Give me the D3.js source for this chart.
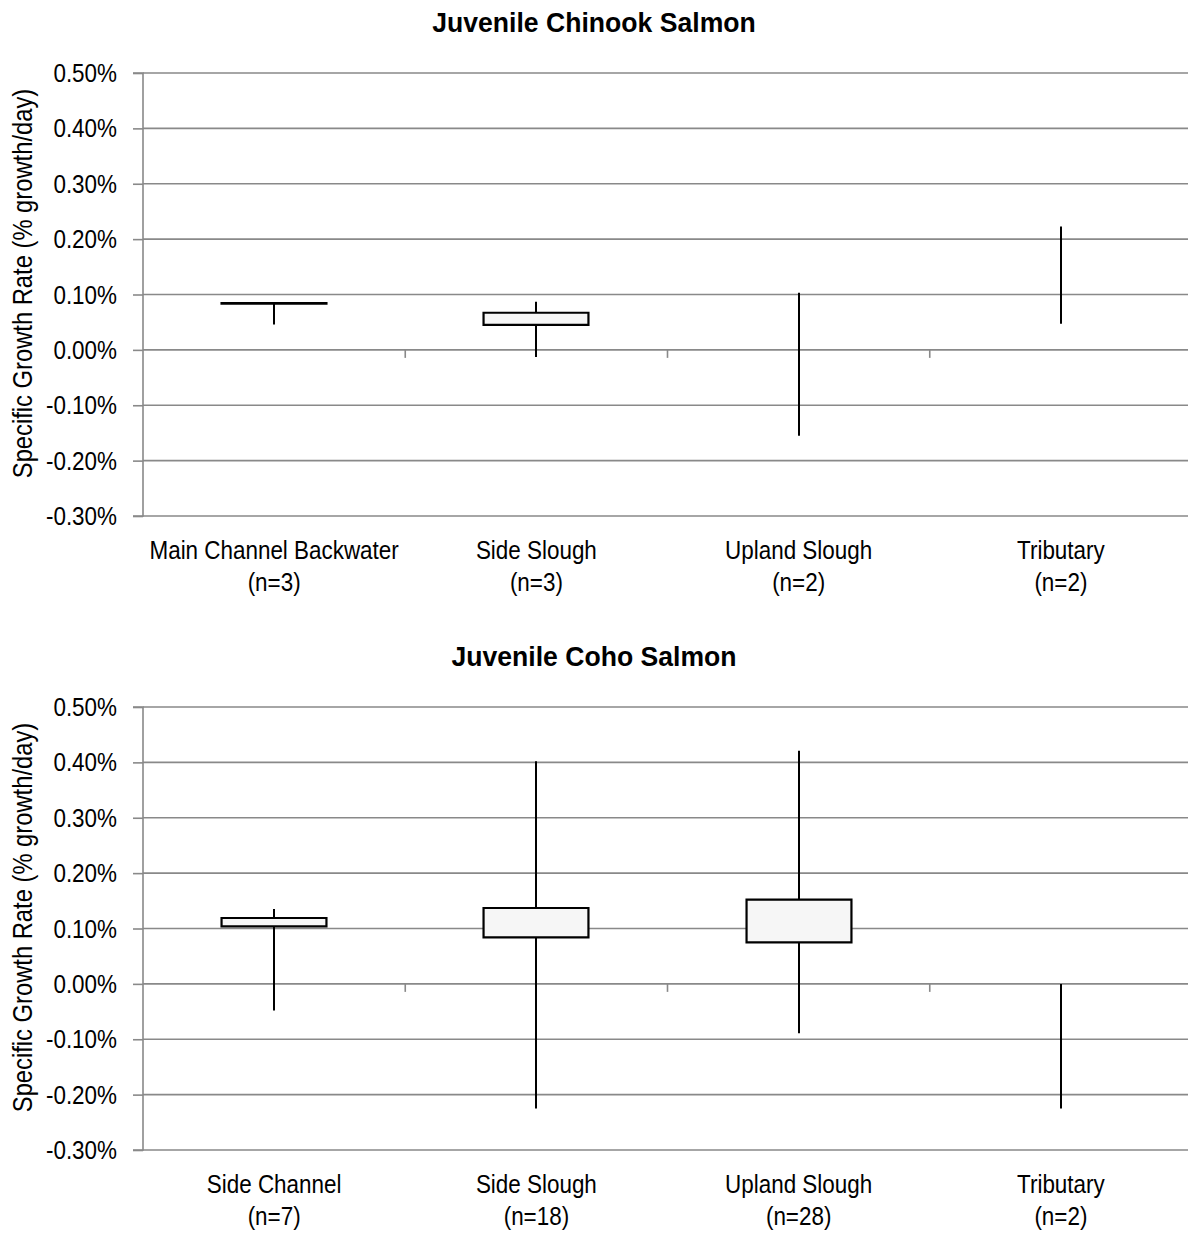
<!DOCTYPE html>
<html>
<head>
<meta charset="utf-8">
<script src="https://cdn.jsdelivr.net/npm/d3@7/dist/d3.min.js"></script>
<style>
  html, body { margin: 0; padding: 0; background: #fff; }
  svg text { font-family: "Liberation Sans Narrow", "Arial Narrow", "Liberation Sans", Arial, sans-serif; fill: #000; }
</style>
</head>
<body>
<svg id="chart" width="1188" height="1234"></svg>
<script>
// Growth-rate summaries (% growth/day) by habitat type
const chinookCategories = ["Main Channel Backwater", "Side Slough", "Upland Slough", "Tributary"];
const chinookN = [3, 3, 2, 2];
const chinookMin = [0.046, -0.013, -0.155, 0.047];
const chinookQ1  = [0.0835, 0.045, null, null];
const chinookQ3  = [0.0845, 0.067, null, null];
const chinookMax = [0.0845, 0.087, 0.103, 0.223];

const cohoCategories = ["Side Channel", "Side Slough", "Upland Slough", "Tributary"];
const cohoN = [7, 18, 28, 2];
const cohoMin = [-0.048, -0.225, -0.089, -0.225];
const cohoQ1  = [0.104, 0.084, 0.075, null];
const cohoQ3  = [0.119, 0.137, 0.152, null];
const cohoMax = [0.135, 0.402, 0.421, 0.000];

const yTicks = [0.5, 0.4, 0.3, 0.2, 0.1, 0.0, -0.1, -0.2, -0.3];
const yTickLabels = ["0.50%", "0.40%", "0.30%", "0.20%", "0.10%", "0.00%", "-0.10%", "-0.20%", "-0.30%"];

const svg = d3.select("#chart");
const gridColor = "#898989";
const NARROW = 0.88; // horizontal squeeze giving a condensed face

// text drawn in a horizontally condensed form
function narrowText(parent, x, y, str, size, opts = {}) {
  const k = opts.k || NARROW;
  const g = parent.append("g")
    .attr("transform", `translate(${x},${y})${opts.rotate ? ` rotate(${opts.rotate})` : ""} scale(${k},1)`);
  return g.append("text")
    .attr("x", 0).attr("y", 0)
    .attr("text-anchor", opts.anchor || "middle")
    .attr("dominant-baseline", opts.baseline || "alphabetic")
    .attr("font-size", size)
    .attr("font-weight", opts.bold ? "bold" : "normal")
    .text(str);
}

function panel(top, title, cats, ns, mins, q1s, q3s, maxs) {
  const left = 143, right = 1192, plotH = 443;
  const g = svg.append("g").attr("transform", `translate(0,${top})`);

  const y = d3.scaleLinear().domain([-0.3, 0.5]).range([plotH, 0]);
  const x = d3.scaleBand().domain(cats).range([left, right]).padding(0);

  // title
  narrowText(g, 594, -41, title, 28, { bold: true, k: 0.95 });

  // gridlines
  g.append("g").selectAll("line").data(yTicks).join("line")
    .attr("x1", left).attr("x2", right)
    .attr("y1", d => y(d)).attr("y2", d => y(d))
    .attr("stroke", gridColor).attr("stroke-width", 1.6);

  // value axis: line, outward ticks, labels
  const yAxis = d3.axisLeft(y).tickValues(yTicks).tickSize(10).tickFormat("");
  const ya = g.append("g").attr("transform", `translate(${left},0)`).call(yAxis);
  ya.select(".domain").attr("stroke", gridColor).attr("stroke-width", 1.6).attr("d", `M-10,${y(0.5)}H0V${y(-0.3)}H-10`);
  ya.selectAll(".tick line").attr("stroke", gridColor).attr("stroke-width", 1.6);
  yTicks.forEach((v, i) => {
    narrowText(g, left - 26, y(v), yTickLabels[i], 25.5, { anchor: "end", baseline: "central" });
  });

  // category ticks on the zero line
  const bounds = cats.slice(1).map(c => x(c));
  g.append("g").selectAll("line").data(bounds).join("line")
    .attr("x1", d => d).attr("x2", d => d)
    .attr("y1", y(0)).attr("y2", y(0) + 8)
    .attr("stroke", gridColor).attr("stroke-width", 1.6);

  // y-axis title
  narrowText(g, 32, plotH / 2 - 11, "Specific Growth Rate (% growth/day)", 27, { rotate: -90, k: 0.88 });

  // category labels
  cats.forEach((c, i) => {
    const cx = x(c) + x.bandwidth() / 2;
    narrowText(g, cx, plotH + 43, c, 25.5);
    narrowText(g, cx, plotH + 75, `(n=${ns[i]})`, 25.5);
  });

  // boxes and whiskers
  const boxW = x.bandwidth() * 0.4;
  const marks = g.append("g");
  cats.forEach((c, i) => {
    const cx = Math.round(x(c) + x.bandwidth() / 2);
    marks.append("line")
      .attr("x1", cx).attr("x2", cx)
      .attr("y1", y(mins[i])).attr("y2", y(maxs[i]))
      .attr("stroke", "#000").attr("stroke-width", 2);
    if (q1s[i] != null) {
      const x0 = cx - boxW / 2, x1 = cx + boxW / 2;
      marks.append("path")
        .attr("d", `M${x0},${y(q3s[i])}H${x1}V${y(q1s[i])}H${x0}Z`)
        .attr("fill", "#f6f6f6").attr("stroke", "#000").attr("stroke-width", 2.2);
    }
  });
}

panel(73, "Juvenile Chinook Salmon", chinookCategories, chinookN, chinookMin, chinookQ1, chinookQ3, chinookMax);
panel(707, "Juvenile Coho Salmon", cohoCategories, cohoN, cohoMin, cohoQ1, cohoQ3, cohoMax);
</script>
</body>
</html>
